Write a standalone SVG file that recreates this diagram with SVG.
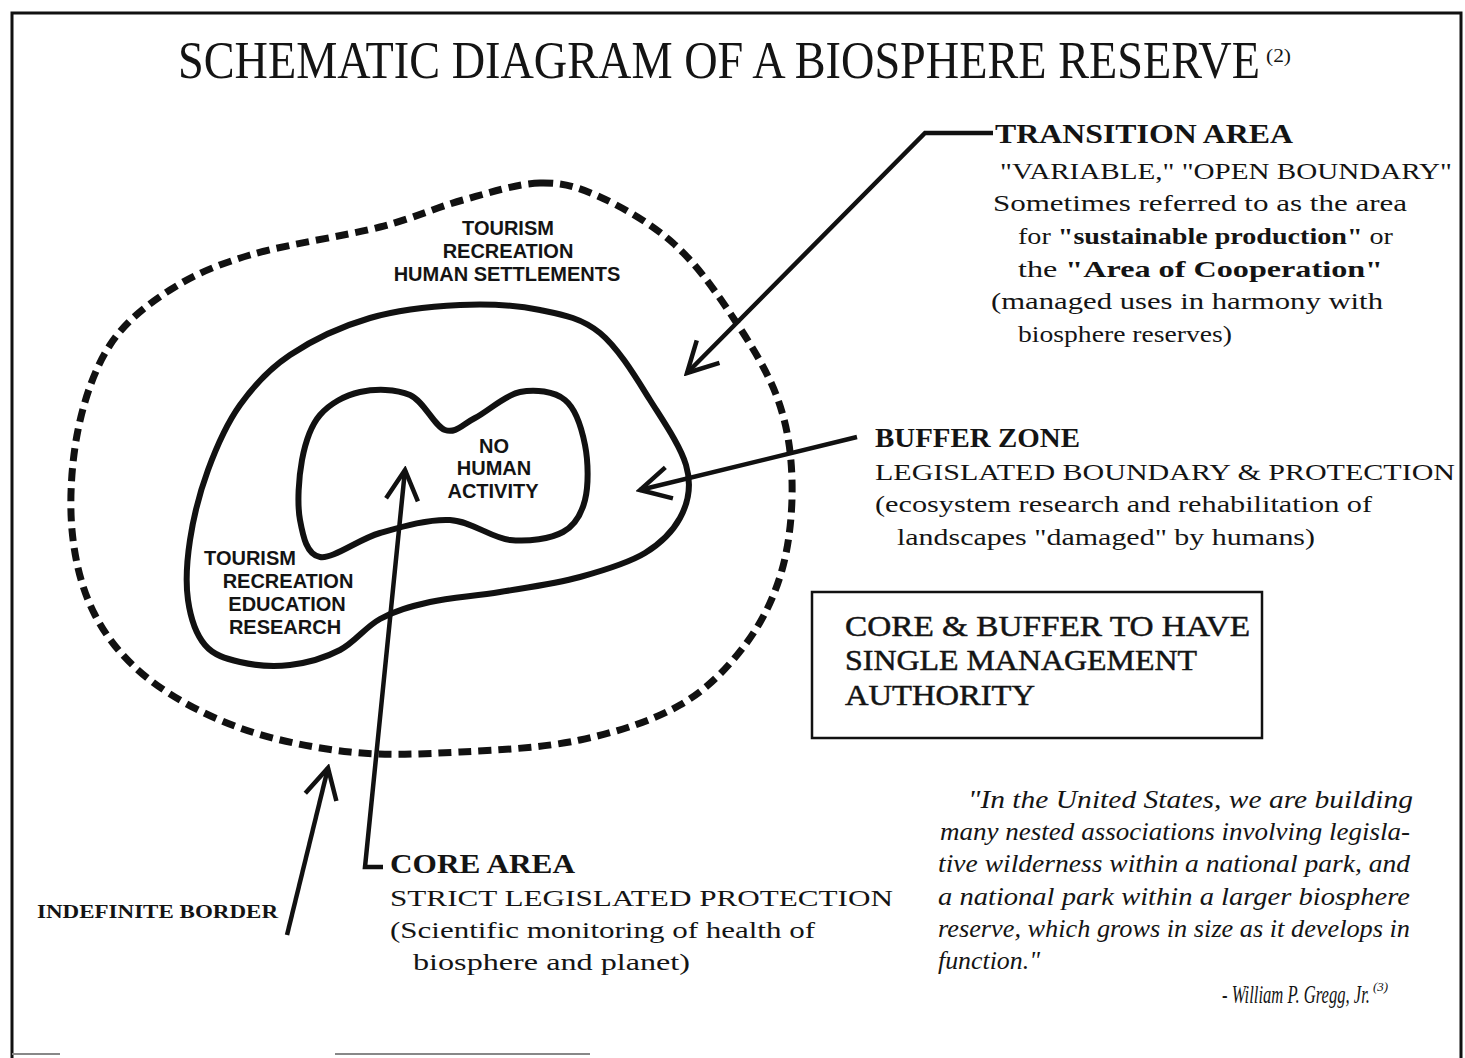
<svg xmlns="http://www.w3.org/2000/svg" width="1465" height="1058" viewBox="0 0 1465 1058">
<style>
.serif{font-family:"Liberation Serif","Times New Roman",serif;fill:#141414}
.b{font-weight:bold}
.sans{font-family:"Liberation Sans",Arial,sans-serif;font-weight:bold;fill:#141414;font-size:20px;text-anchor:middle}
.lbl{font-size:24px}
.hd{font-size:27px;font-weight:bold}
.q{font-family:"Liberation Serif","Times New Roman",serif;font-style:italic;font-size:25px;fill:#141414}
.sup{font-size:13px}
.zone{fill:none;stroke:#111;stroke-width:6;stroke-linejoin:round}
.dash{stroke-width:7;stroke-dasharray:13 7}
.con{fill:none;stroke:#111;stroke-width:4.5;stroke-linejoin:miter}
</style>
<defs>
<marker id="ah" markerUnits="userSpaceOnUse" viewBox="-40 -22 44 44" markerWidth="44" markerHeight="44" refX="0" refY="0" orient="auto">
<path d="M-30,-16 L0,0 L-30,16" fill="none" stroke="#111" stroke-width="4.5"/>
</marker>
</defs>
<rect x="0" y="0" width="1465" height="1058" fill="#fff"/>
<g id="frame">
<path d="M12,1058 V13 H1461 V1058" fill="none" stroke="#111" stroke-width="3"/>
<path d="M12,1054 H60 M335,1054 H590" stroke="#888" stroke-width="2"/>
</g>
<g id="title">
<text class="serif" transform="scale(1,1.15)" x="178" y="67.8" font-size="45.5" textLength="1082" lengthAdjust="spacingAndGlyphs">SCHEMATIC DIAGRAM OF A BIOSPHERE RESERVE</text>
<text class="serif" x="1266" y="62" font-size="19" textLength="25" lengthAdjust="spacingAndGlyphs">(2)</text>
</g>
<g id="transition-area">
<path class="zone dash" d="M540,183 C562.8,182.5 577.8,187 600,197 C622.2,207 651.3,223.7 673,243 C694.7,262.3 712.7,287.3 730,313 C747.3,338.7 766.7,369.2 777,397 C787.3,424.8 791.2,451.2 792,480 C792.8,508.8 789.8,542.5 782,570 C774.2,597.5 762,622.5 745,645 C728,667.5 707.5,689.2 680,705 C652.5,720.8 616.7,732.2 580,740 C543.3,747.8 498.3,750 460,752 C421.7,754 386.7,756 350,752 C313.3,748 273.3,740 240,728 C206.7,716 174.2,698.8 150,680 C125.8,661.2 108,640 95,615 C82,590 74.8,560.8 72,530 C69.2,499.2 71.7,460.8 78,430 C84.3,399.2 94.7,368.3 110,345 C125.3,321.7 146.7,305 170,290 C193.3,275 215,265.5 250,255 C285,244.5 344.5,236.2 380,227 C415.5,217.8 436.3,207.3 463,200 C489.7,192.7 517.2,183.5 540,183 Z"/>
<text class="sans" x="508" y="235">TOURISM</text>
<text class="sans" x="508" y="258">RECREATION</text>
<text class="sans" x="507" y="281">HUMAN SETTLEMENTS</text>
</g>
<g id="buffer-zone">
<path class="zone" d="M460,305 C488.3,303.7 516.7,305.3 540,310 C563.3,314.7 581.7,318 600,333 C618.3,348 636.2,378 650,400 C663.8,422 680.3,445.8 686,465 C691.7,484.2 688.3,502.8 680,518 C671.7,533.2 661.3,543 645,553 C628.7,563 604.2,570.3 580,577 C555.8,583.7 525,587.8 500,592 C475,596.2 450,597.3 430,602 C410,606.7 395,610.7 380,619 C365,627.3 355,642.2 340,650 C325,657.8 306.7,663 290,665 C273.3,667 254.2,665.3 240,662 C225.8,658.7 213.7,655.3 205,645 C196.3,634.7 190.5,617.5 188,600 C185.5,582.5 186.7,561.7 190,540 C193.3,518.3 199.7,492.5 208,470 C216.3,447.5 226.3,424.2 240,405 C253.7,385.8 268.3,369.5 290,355 C311.7,340.5 341.7,326.3 370,318 C398.3,309.7 431.7,306.3 460,305 Z"/>
<text class="sans" x="250" y="565">TOURISM</text>
<text class="sans" x="288" y="588">RECREATION</text>
<text class="sans" x="287" y="611">EDUCATION</text>
<text class="sans" x="285" y="634">RESEARCH</text>
</g>
<g id="core-area">
<path class="zone" d="M360,392 C375,388.7 395.8,388.7 410,395 C424.2,401.3 434.2,426.2 445,430 C455.8,433.8 462.5,424.3 475,418 C487.5,411.7 505,395 520,392 C535,389 554.2,391.2 565,400 C575.8,408.8 581.7,428.3 585,445 C588.3,461.7 588.7,485.5 585,500 C581.3,514.5 575.5,525.3 563,532 C550.5,538.7 528.8,542 510,540 C491.2,538 471.7,521.2 450,520 C428.3,518.8 401.7,526.8 380,533 C358.3,539.2 333.3,559.2 320,557 C306.7,554.8 303,536.2 300,520 C297,503.8 298.7,477.5 302,460 C305.3,442.5 310.3,426.3 320,415 C329.7,403.7 345,395.3 360,392 Z"/>
<text class="sans" x="494" y="453">NO</text>
<text class="sans" x="494" y="475">HUMAN</text>
<text class="sans" x="493" y="498">ACTIVITY</text>
</g>
<g id="connectors">
<path class="con" d="M993,133 H925 L687,373" marker-end="url(#ah)"/>
<path class="con" d="M857,437 L640,490" marker-end="url(#ah)"/>
<path class="con" d="M383,867 H365 L405,470" marker-end="url(#ah)"/>
<path class="con" d="M287,935 L328,768" marker-end="url(#ah)"/>
</g>
<g id="transition-label">
<text class="serif hd" x="995" y="143" textLength="298" lengthAdjust="spacingAndGlyphs">TRANSITION AREA</text>
<text class="serif lbl" x="1000" y="179" textLength="452" lengthAdjust="spacingAndGlyphs">"VARIABLE," "OPEN BOUNDARY"</text>
<text class="serif lbl" x="993" y="211" textLength="414" lengthAdjust="spacingAndGlyphs">Sometimes referred to as the area</text>
<text class="serif lbl" x="1018" y="244" textLength="375" lengthAdjust="spacingAndGlyphs">for <tspan class="b">"sustainable production"</tspan> or</text>
<text class="serif lbl" x="1018" y="277" textLength="365" lengthAdjust="spacingAndGlyphs">the <tspan class="b">"Area of Cooperation"</tspan></text>
<text class="serif lbl" x="991" y="309" textLength="392" lengthAdjust="spacingAndGlyphs">(managed uses in harmony with</text>
<text class="serif lbl" x="1018" y="342" textLength="214" lengthAdjust="spacingAndGlyphs">biosphere reserves)</text>
</g>
<g id="buffer-label">
<text class="serif hd" x="875" y="447" textLength="205" lengthAdjust="spacingAndGlyphs">BUFFER ZONE</text>
<text class="serif lbl" x="875" y="480" textLength="580" lengthAdjust="spacingAndGlyphs">LEGISLATED BOUNDARY &amp; PROTECTION</text>
<text class="serif lbl" x="875" y="512" textLength="497" lengthAdjust="spacingAndGlyphs">(ecosystem research and rehabilitation of</text>
<text class="serif lbl" x="897" y="545" textLength="418" lengthAdjust="spacingAndGlyphs">landscapes "damaged" by humans)</text>
</g>
<g id="management-box">
<rect x="812" y="592" width="450" height="146" fill="none" stroke="#111" stroke-width="2.5"/>
<text class="serif" font-size="30" x="845" y="636" textLength="405" lengthAdjust="spacingAndGlyphs" stroke="#141414" stroke-width="0.5">CORE &amp; BUFFER TO HAVE</text>
<text class="serif" font-size="30" x="845" y="670" textLength="352" lengthAdjust="spacingAndGlyphs" stroke="#141414" stroke-width="0.5">SINGLE MANAGEMENT</text>
<text class="serif" font-size="30" x="845" y="705" textLength="190" lengthAdjust="spacingAndGlyphs" stroke="#141414" stroke-width="0.5">AUTHORITY</text>
</g>
<g id="core-label">
<text class="serif hd" x="390" y="873" textLength="185" lengthAdjust="spacingAndGlyphs">CORE AREA</text>
<text class="serif lbl" x="390" y="906" textLength="503" lengthAdjust="spacingAndGlyphs">STRICT LEGISLATED PROTECTION</text>
<text class="serif lbl" x="390" y="938" textLength="425" lengthAdjust="spacingAndGlyphs">(Scientific monitoring of health of</text>
<text class="serif lbl" x="413" y="970" textLength="277" lengthAdjust="spacingAndGlyphs">biosphere and planet)</text>
</g>
<g id="indefinite-border-label">
<text class="serif b" font-size="19" x="37" y="918" textLength="241" lengthAdjust="spacingAndGlyphs">INDEFINITE BORDER</text>
</g>
<g id="quote">
<text class="q" x="968" y="808" textLength="445" lengthAdjust="spacingAndGlyphs">"In the United States, we are building</text>
<text class="q" x="940" y="840" textLength="470" lengthAdjust="spacingAndGlyphs">many nested associations involving legisla-</text>
<text class="q" x="938" y="872" textLength="472" lengthAdjust="spacingAndGlyphs">tive wilderness within a national park, and</text>
<text class="q" x="938" y="905" textLength="472" lengthAdjust="spacingAndGlyphs">a national park within a larger biosphere</text>
<text class="q" x="938" y="937" textLength="472" lengthAdjust="spacingAndGlyphs">reserve, which grows in size as it develops in</text>
<text class="q" x="938" y="969" textLength="102" lengthAdjust="spacingAndGlyphs">function."</text>
<text class="q" transform="scale(1,1.5)" x="1222" y="668.7" style="font-size:17px" textLength="148" lengthAdjust="spacingAndGlyphs">- William P. Gregg, Jr.</text>
<text class="q sup" x="1373" y="991">(3)</text>
</g>
</svg>
